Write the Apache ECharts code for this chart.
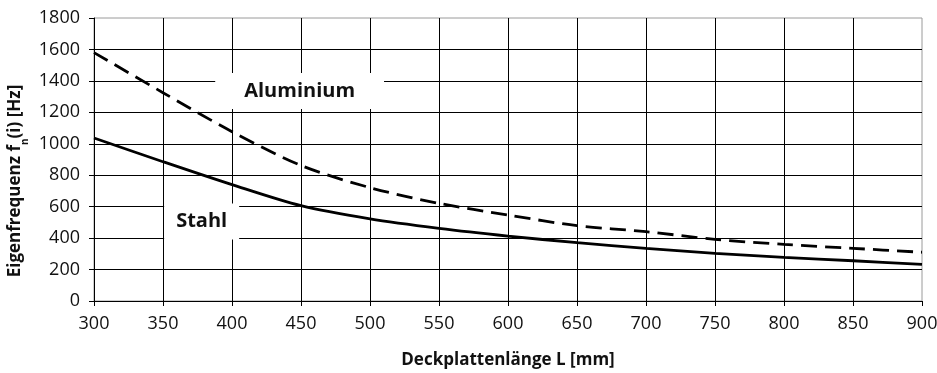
<!DOCTYPE html>
<html>
<head>
<meta charset="utf-8">
<script src="https://cdn.jsdelivr.net/npm/echarts@6/dist/echarts.min.js"></script>
<style>html,body{margin:0;padding:0;background:#fff}#c{width:937px;height:373px}</style>
</head>
<body>
<div id="c"></div>
<script>
const lengths = [300, 350, 400, 450, 500, 550, 600, 650, 700, 750, 800, 850, 900];
const aluminium = [1580, 1325, 1077, 862, 721, 621, 547, 479, 441, 392, 360, 335, 310];
const stahl = [1037, 886, 740, 606, 522, 462, 413, 371, 335, 303, 278, 256, 233];
const xTitle = 'Deckplattenlänge L [mm]';
const yTitle = 'Eigenfrequenz f{sub|n}(i) [Hz]';
const seriesNames = ['Aluminium', 'Stahl'];

const font = 'Open Sans';
const chart = echarts.init(document.getElementById('c'), null, {renderer: 'canvas'});
chart.setOption({
  animation: false,
  backgroundColor: '#fff',
  grid: {left: 94, right: 15, top: 18, bottom: 72, containLabel: false, outerBoundsMode: 'none',
    show: true, borderColor: '#9a9a9a', borderWidth: 1, backgroundColor: 'transparent'},
  graphic: [{
    type: 'text', x: 15, y: 181, rotation: Math.PI / 2, silent: true,
    style: {text: yTitle, fontFamily: font, fontWeight: 'bold', fontSize: 17, fill: '#111',
      align: 'center', verticalAlign: 'middle',
      rich: {sub: {fontFamily: font, fontWeight: 'bold', fontSize: 10, fill: '#111', verticalAlign: 'bottom', padding: [0, 0, -7, 0]}}}
  }],
  xAxis: {
    type: 'value', min: 300, max: 900, interval: 50,
    name: xTitle, nameLocation: 'middle', nameGap: 51,
    nameTextStyle: {fontFamily: font, fontWeight: 'bold', fontSize: 17, color: '#111'},
    axisLine: {show: true, lineStyle: {color: '#000', width: 1}},
    axisTick: {show: true, length: 5, lineStyle: {color: '#000'}},
    axisLabel: {fontFamily: font, fontSize: 18, color: '#111', margin: 14, formatter: v => String(v)},
    splitLine: {show: true, showMaxLine: false, lineStyle: {color: '#000', width: 1}}
  },
  yAxis: {
    type: 'value', min: 0, max: 1800, interval: 200,
    axisLine: {show: true, lineStyle: {color: '#000', width: 1}},
    axisTick: {show: true, length: 5, lineStyle: {color: '#000'}},
    axisLabel: {fontFamily: font, fontSize: 18, color: '#111', margin: 14, formatter: v => String(v)},
    splitLine: {show: true, showMaxLine: false, lineStyle: {color: '#000', width: 1}}
  },
  series: [
    {
      name: seriesNames[0], type: 'line', smooth: 0.3, showSymbol: false,
      data: lengths.map((l, i) => [l, aluminium[i]]),
      lineStyle: {color: '#000', width: 2.8, type: [16, 8]},
      markPoint: {
        symbol: 'rect', symbolSize: 0, silent: true,
        data: [{coord: [449, 1336]}],
        label: {show: true, formatter: seriesNames[0], fontFamily: font, fontWeight: 'bold', fontSize: 20, color: '#111',
          backgroundColor: '#fff', padding: [8, 29, 8, 29], position: 'inside'}
      }
    },
    {
      name: seriesNames[1], type: 'line', smooth: 0.3, showSymbol: false,
      data: lengths.map((l, i) => [l, stahl[i]]),
      lineStyle: {color: '#000', width: 2.8},
      markPoint: {
        symbol: 'rect', symbolSize: 0, silent: true,
        data: [{coord: [378, 506]}],
        label: {show: true, formatter: seriesNames[1], fontFamily: font, fontWeight: 'bold', fontSize: 20, color: '#111',
          backgroundColor: '#fff', padding: [8, 12, 8, 12], position: 'inside'}
      }
    }
  ]
});
</script>
</body>
</html>
